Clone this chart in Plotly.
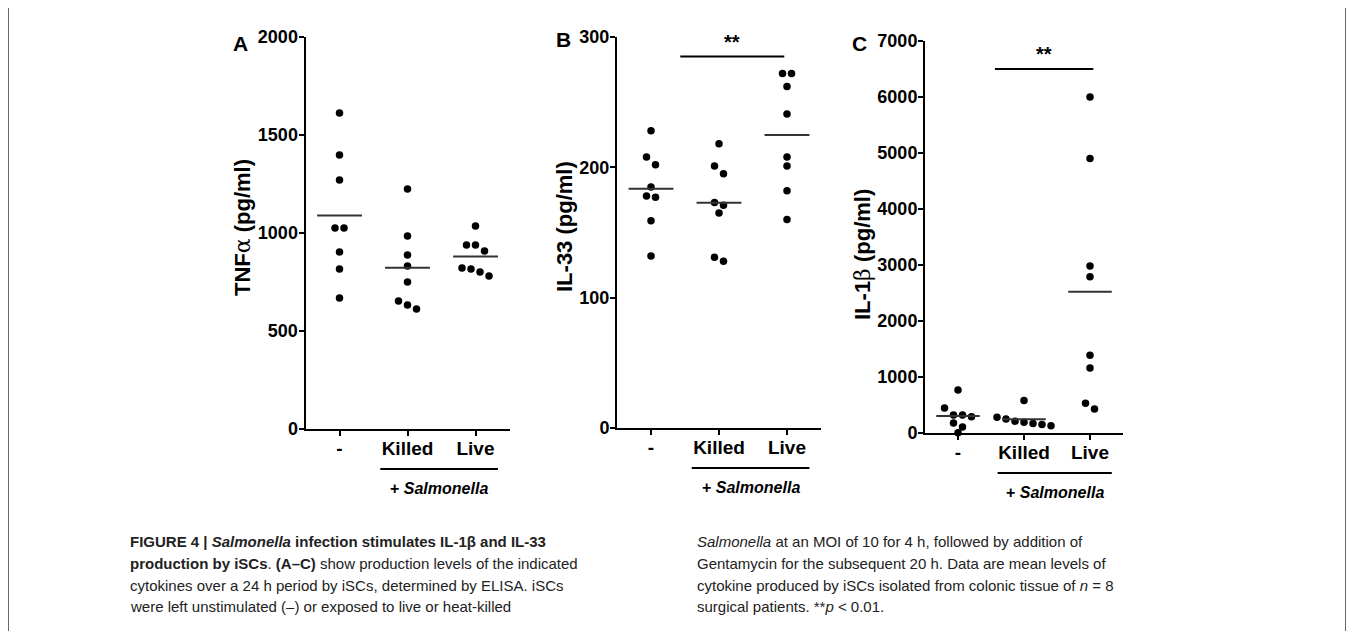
import numpy as np
import plotly.graph_objects as go

# ---------------- data ----------------
groups = ["-", "Killed", "Live"]

tnfa_unstim = [1612, 1398, 1270, 1025, 1025, 903, 816, 668]
tnfa_killed = [1224, 985, 888, 832, 750, 653, 633, 612]
tnfa_live = [1036, 939, 939, 908, 821, 816, 801, 781]

il33_unstim = [228, 208, 202, 185, 178, 177, 159, 132]
il33_killed = [218, 201, 195, 173, 171, 165, 131, 128]
il33_live = [272, 272, 262, 241, 208, 201, 182, 160]

il1b_unstim = [768, 446, 321, 321, 290, 179, 107, 5]
il1b_killed = [580, 280, 250, 210, 190, 170, 150, 130]
il1b_live = [6000, 4900, 2980, 2790, 1390, 1160, 530, 430]

tnfa_ticks = [0, 500, 1000, 1500, 2000]
il33_ticks = [0, 100, 200, 300]
il1b_ticks = [0, 1000, 2000, 3000, 4000, 5000, 6000, 7000]

# ---------------- layout helpers ----------------
# the page body has an 8px margin, so the figure is drawn 8px in from the window edge
OFF = 8
W, H = 1354 - 2 * OFF, 639 - 2 * OFF
FONT = "Liberation Sans, Arial, sans-serif"
CAP_FONT = "Liberation Sans, Arial, sans-serif"


def px_x(p):
    return (p - OFF) / W


def px_y(p):
    return 1 - (p - OFF) / H


SER = "<span style='font-family:DejaVu Serif;font-weight:normal'>%s</span>"

panels = [
    dict(letter="A", title="TNF" + SER % "α" + " (pg/ml)",
         data=[tnfa_unstim, tnfa_killed, tnfa_live], ticks=tnfa_ticks,
         x0=305.5, x1=509.5, zero=429, top=37, ymax=2000,
         letter_xy=(240, 43), title_xy=(243, 227), sig=None),
    dict(letter="B", title="IL-33 (pg/ml)",
         data=[il33_unstim, il33_killed, il33_live], ticks=il33_ticks,
         x0=617, x1=821, zero=428, top=37, ymax=300,
         letter_xy=(563, 40), title_xy=(565, 227),
         sig=dict(xa=1.43, xb=2.96, yv=285, tx=2.19, ty=42)),
    dict(letter="C", title="IL-1" + SER % "β" + " (pg/ml)",
         data=[il1b_unstim, il1b_killed, il1b_live], ticks=il1b_ticks,
         x0=925, x1=1123, zero=433, top=41, ymax=7000,
         letter_xy=(859, 43), title_xy=(862, 255),
         sig=dict(xa=1.56, xb=3.05, yv=6500, tx=2.3, ty=54)),
]

MARK_D = 9.0  # px spacing for side-by-side points


def swarm_offsets(vals, px_per_unit_y, px_per_unit_x):
    """Row-based scatter layout (like Prism): points whose pixel heights are
    within one marker diameter share a row and are centred side by side."""
    order = sorted(range(len(vals)), key=lambda i: -vals[i])
    rows, cur = [], []
    for i in order:
        if cur and (vals[cur[0]] - vals[i]) * px_per_unit_y >= MARK_D:
            rows.append(cur)
            cur = []
        cur.append(i)
    if cur:
        rows.append(cur)
    off = [0.0] * len(vals)
    for r in rows:
        n = len(r)
        for k, i in enumerate(r):
            off[i] = (k - (n - 1) / 2) * MARK_D / px_per_unit_x
    return off


fig = go.Figure()
layout = dict(width=W, height=H, margin=dict(l=0, r=0, t=0, b=0, autoexpand=False),
              paper_bgcolor="white", plot_bgcolor="white", showlegend=False,
              font=dict(family=FONT, color="black"))
shapes, annotations = [], []

for k, p in enumerate(panels):
    n = "" if k == 0 else str(k + 1)
    xa, ya = "x" + n, "y" + n
    pxu_x = (p["x1"] - p["x0"]) / 3.0
    pxu_y = (p["zero"] - p["top"]) / p["ymax"]
    for gi, vals in enumerate(p["data"]):
        xc = gi + 1
        offs = swarm_offsets(vals, pxu_y, pxu_x)
        fig.add_trace(go.Scatter(
            x=[xc + o for o in offs], y=vals, mode="markers",
            marker=dict(color="black", size=7.5, line=dict(width=0)),
            cliponaxis=False, xaxis=xa, yaxis=ya, hoverinfo="y"))
        m = float(np.mean(vals))
        fig.add_trace(go.Scatter(
            x=[xc - 0.33, xc + 0.33], y=[m, m], mode="lines",
            line=dict(color="#333333", width=2), xaxis=xa, yaxis=ya,
            hoverinfo="skip"))

    layout["xaxis" + n] = dict(
        domain=[px_x(p["x0"]), px_x(p["x1"])], range=[0.5, 3.5],
        anchor=ya, tickvals=[1, 2, 3], ticktext=groups, automargin=False,
        showline=True, linecolor="black", linewidth=2,
        ticks="outside", ticklen=5, tickwidth=2, tickcolor="black",
        ticklabelstandoff=-4,
        showgrid=False, zeroline=False,
        tickfont=dict(family=FONT, size=19, color="black", weight="bold"))
    layout["yaxis" + n] = dict(
        domain=[px_y(p["zero"]), px_y(p["top"])], range=[0, p["ymax"]],
        anchor=xa, tickvals=p["ticks"], automargin=False,
        showline=True, linecolor="black", linewidth=2,
        ticks="outside", ticklen=5, tickwidth=2, tickcolor="black",
        ticklabelstandoff=-3,
        showgrid=False, zeroline=False,
        tickfont=dict(family=FONT, size=18, color="black", weight="bold"))

    # panel letter
    annotations.append(dict(text="<b>%s</b>" % p["letter"], xref="paper", yref="paper",
                            x=px_x(p["letter_xy"][0]), y=px_y(p["letter_xy"][1]),
                            xanchor="center", yanchor="middle", showarrow=False,
                            font=dict(family=FONT, size=21, color="black")))
    # y-axis title
    annotations.append(dict(text="<b>%s</b>" % p["title"], xref="paper", yref="paper",
                            x=px_x(p["title_xy"][0]), y=px_y(p["title_xy"][1]),
                            xanchor="center", yanchor="middle", textangle=-90,
                            showarrow=False, font=dict(family=FONT, size=22, color="black")))
    # + Salmonella bracket (below Killed & Live)
    xd = xa + " domain"
    shapes.append(dict(type="line", xref=xd, yref="paper",
                       x0=(1.6 - 0.5) / 3, x1=(3.33 - 0.5) / 3,
                       y0=px_y(p["zero"] + 40), y1=px_y(p["zero"] + 40),
                       line=dict(color="black", width=2)))
    annotations.append(dict(text="<b>+ <i>Salmonella</i></b>", xref=xd, yref="paper",
                            x=(2.47 - 0.5) / 3, y=px_y(p["zero"] + 59),
                            xanchor="center", yanchor="middle", showarrow=False,
                            font=dict(family=FONT, size=16, color="black")))
    if p["sig"]:
        s = p["sig"]
        shapes.append(dict(type="line", xref=xa, yref=ya, x0=s["xa"], x1=s["xb"],
                           y0=s["yv"], y1=s["yv"], line=dict(color="black", width=2)))
        annotations.append(dict(text="<b>**</b>", xref=xa, yref="paper",
                                x=s["tx"], y=px_y(s["ty"]), xanchor="center",
                                yanchor="middle", showarrow=False,
                                font=dict(family=FONT, size=20, color="black")))

# ---------------- caption ----------------
left_lines = [
    "<b>FIGURE 4 | <i>Salmonella</i> infection stimulates IL-1β and IL-33</b>",
    "<b>production by iSCs</b>. <b>(A–C)</b> show production levels of the indicated",
    "cytokines over a 24 h period by iSCs, determined by ELISA. iSCs",
    "were left unstimulated (–) or exposed to live or heat-killed",
]
right_lines = [
    "<i>Salmonella</i> at an MOI of 10 for 4 h, followed by addition of",
    "Gentamycin for the subsequent 20 h. Data are mean levels of",
    "cytokine produced by iSCs isolated from colonic tissue of <i>n</i> = 8",
    "surgical patients. **<i>p</i> &lt; 0.01.",
]
line_y = [541, 563, 585, 606]
for col_x, lines in ((128, left_lines), (695, right_lines)):
    for t, yy in zip(lines, line_y):
        annotations.append(dict(text=t, xref="paper", yref="paper", x=px_x(col_x), y=px_y(yy),
                                xanchor="left", yanchor="middle", showarrow=False,
                                font=dict(family=CAP_FONT, size=15, color="#222222")))

# frame edges
for ex in (0.5 / W, 1 - 0.5 / W):
    shapes.append(dict(type="line", xref="paper", yref="paper", x0=ex, x1=ex,
                       y0=0, y1=1, line=dict(color="#666666", width=1)))

layout["shapes"] = shapes
layout["annotations"] = annotations
fig.update_layout(**layout)
fig.write_html("out.html")
